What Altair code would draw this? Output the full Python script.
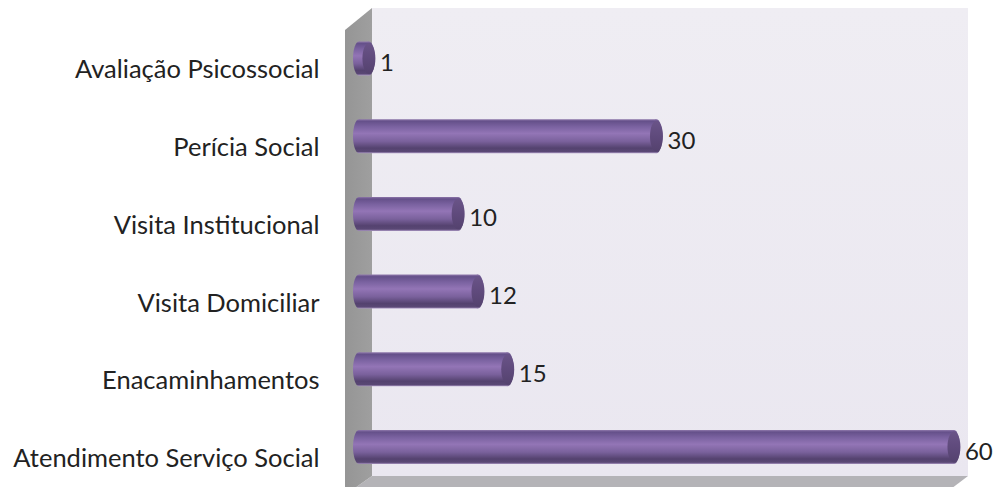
import altair as alt
import pandas as pd

categories = ["Avaliação Psicossocial", "Perícia Social", "Visita Institucional",
              "Visita Domiciliar", "Enacaminhamentos", "Atendimento Serviço Social"]
values = [1, 30, 10, 12, 15, 60]

W, H, PAD = 683, 479, 315
df = pd.DataFrame({"cat": categories, "val": values, "zero": [0] * 6})

xs = alt.Scale(domain=[-3.63, 65.25], range=[0, W], nice=False, zero=False)
ys = alt.Scale(domain=categories, range=[11.65, 477.85], paddingInner=0.5624, paddingOuter=0.281)
px = alt.Scale(domain=[0, W], range=[0, W], nice=False, zero=False)
py = alt.Scale(domain=[0, 487], range=[0, 487], nice=False, zero=False)


def grad(stops, vertical=True):
    return alt.Gradient(
        gradient="linear",
        stops=[alt.GradientStop(color=c, offset=o) for o, c in stops],
        x1=0, y1=0, x2=0 if vertical else 1, y2=1 if vertical else 0,
    )


def panel(xv, yv, y2v, fill):
    d = pd.DataFrame({"x": xv, "y": yv, "y2": y2v})
    return alt.Chart(d).mark_area(color=fill, interpolate="linear", opacity=1).encode(
        x=alt.X("x:Q", scale=px, axis=None),
        y=alt.Y("y:Q", scale=py, axis=None),
        y2="y2:Q",
    )


back = panel([49, 645], [0, 0], [468, 468], grad([(0, "#EFEDF3"), (1, "#EAE7F0")]))
floor = panel([22, 49, 620, 645], [487, 468, 468, 468], [487, 487, 487, 468], "#B4B3B7")
left = panel([22, 49], [22, 0], [487, 468], grad([(0, "#959595"), (1, "#9F9F9F")], vertical=False))

body = [(0, "#8F78AB"), (0.06, "#65508A"), (0.22, "#7A62A0"), (0.42, "#9375B6"),
        (0.65, "#7A619C"), (0.85, "#54426F"), (0.95, "#5A4875"), (1, "#A793C0")]

BOX = 1156
ELL = "M0,-1 A0.353,1 0 1,1 0,1 A0.353,1 0 1,1 0,-1 Z"
FACE = "M0,-1 A0.42,1 0 1,1 0,1 A0.42,1 0 1,1 0,-1 Z"

left_cap = alt.Chart(df).mark_point(shape=ELL, filled=True, size=BOX, opacity=1, color=grad(body)).encode(
    x=alt.X("zero:Q", scale=xs, axis=None),
    y=alt.Y("cat:N", scale=ys, axis=None),
)
right_cap = alt.Chart(df).mark_point(shape=ELL, filled=True, size=BOX, opacity=1, color=grad(body)).encode(
    x=alt.X("val:Q", scale=xs, axis=None),
    y=alt.Y("cat:N", scale=ys, axis=None),
)
bars = alt.Chart(df).mark_bar(color=grad(body)).encode(
    x=alt.X("zero:Q", scale=xs, axis=None),
    x2="val:Q",
    y=alt.Y("cat:N", scale=ys, sort=categories, title=None, axis=alt.Axis(
        domain=False, ticks=False, grid=False, labelFont="Lato", labelFontSize=25.5,
        labelColor="#222222", labelPadding=4, labelOffset=12, labelLimit=320)),
)
end_face = alt.Chart(df).mark_point(
    shape=FACE, filled=True, size=950, opacity=1,
    color=grad([(0, "#6A5488"), (0.5, "#5F4A7C"), (1, "#54426E")]),
).encode(
    x=alt.X("val:Q", scale=xs, axis=None),
    y=alt.Y("cat:N", scale=ys, axis=None),
)
labels = alt.Chart(df).mark_text(align="left", baseline="middle", dx=11, dy=5.5, font="Lato",
                                 fontSize=24, color="#222222").encode(
    x=alt.X("val:Q", scale=xs, axis=None),
    y=alt.Y("cat:N", scale=ys, axis=None),
    text="val:Q",
)

chart = alt.layer(back, floor, left, left_cap, right_cap, bars, end_face, labels).resolve_scale(
    x="independent", y="independent"
).properties(
    width=W - 8, height=H,
    padding={"left": PAD, "top": 0, "right": 0, "bottom": 0},
    autosize=alt.AutoSizeParams(type="none"),
).configure_view(stroke=None)

chart.save("out.html", embed_options={"renderer": "svg", "actions": False})
